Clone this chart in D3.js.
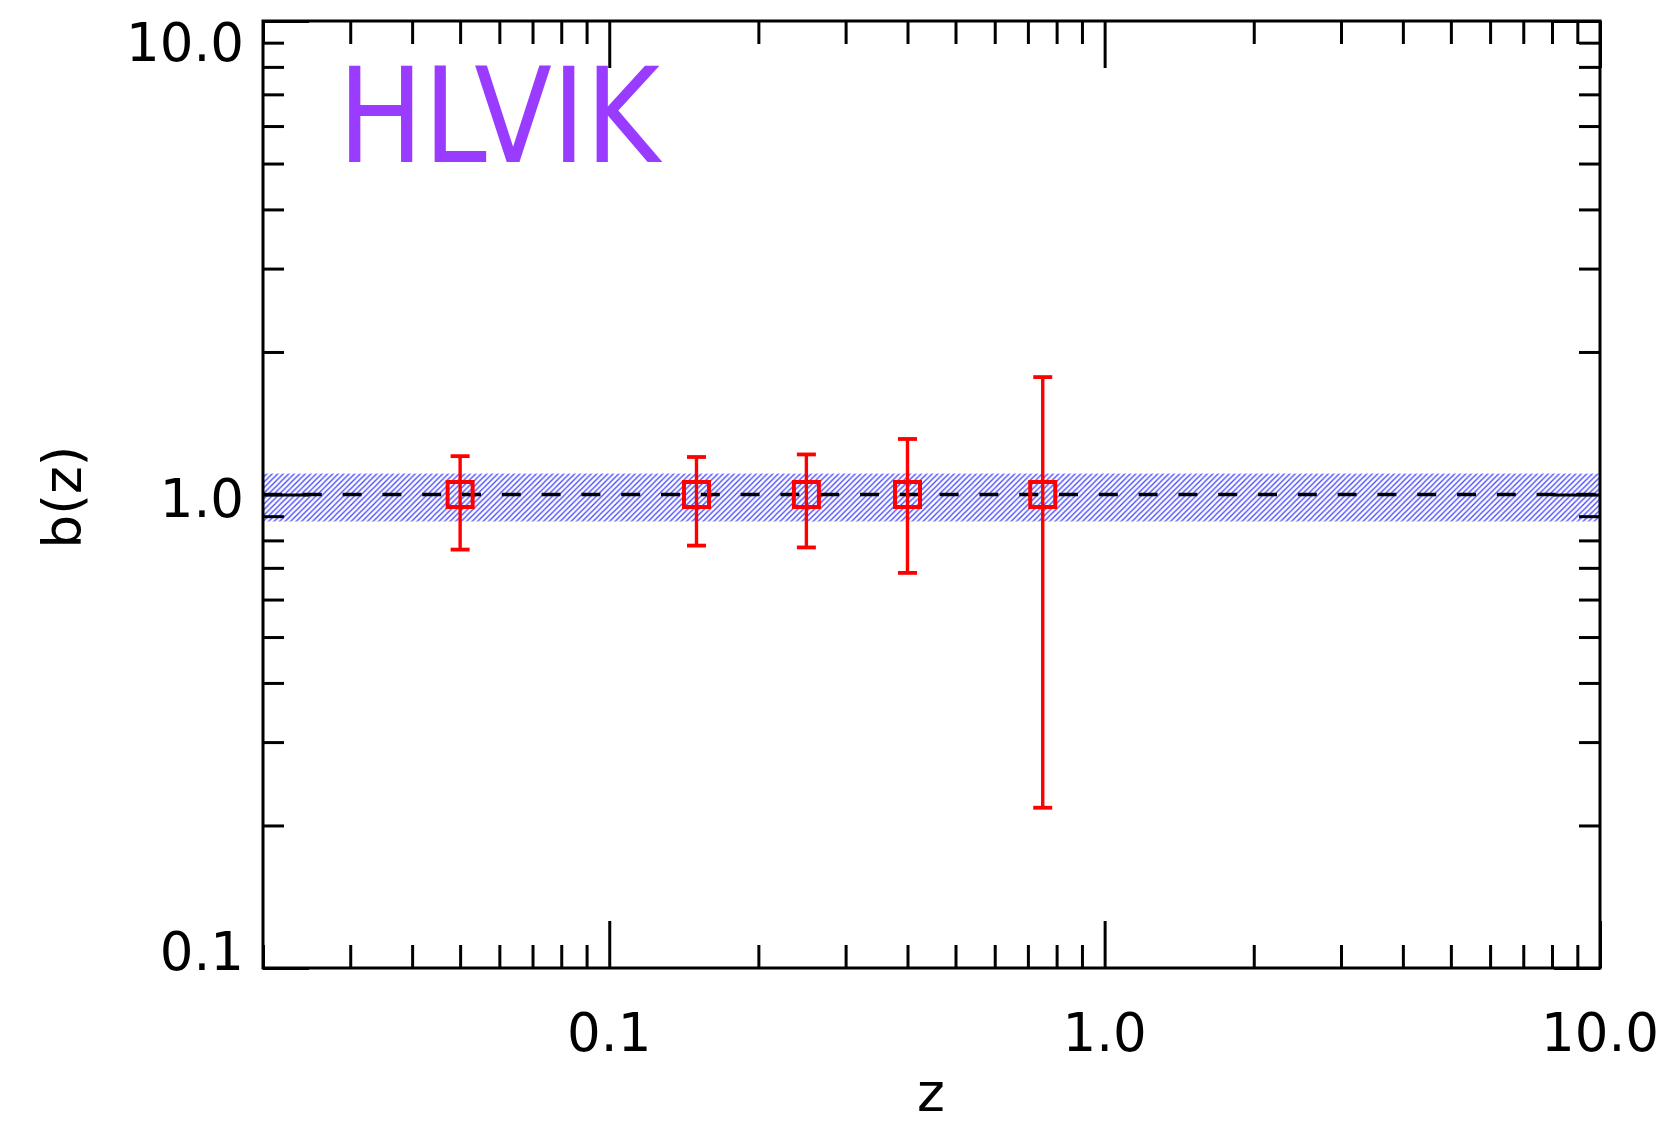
<!DOCTYPE html>
<html>
<head>
<meta charset="utf-8">
<script src="https://cdn.jsdelivr.net/npm/d3@7"></script>
<style>
body { margin: 0; background: #fff; }
svg text { font-family: "DejaVu Sans", sans-serif; }
</style>
</head>
<body>
<div id="chart"></div>
<script>
// data
var zValues = [0.05, 0.15, 0.25, 0.40, 0.75];
var bValues = [1.0, 1.0, 1.0, 1.0, 1.0];
var bUpper = [1.205, 1.20, 1.215, 1.31, 1.77];
var bLower = [0.765, 0.78, 0.773, 0.683, 0.218];
var bandRange = [0.877, 1.107];
var bFiducial = 1.0;
var xMajor = [0.1, 1, 10];
var xLabels = ["0.1", "1.0", "10.0"];
var yMajor = [0.1, 1, 10];
var yLabels = ["0.1", "1.0", "10.0"];
var xDomain = [0.02, 10];
var yDomain = [0.1, 10];
var panelName = "HLVIK";

var margin = {top: 21, right: 65, bottom: 155, left: 263};
var width = 1665 - margin.left - margin.right,
    height = 1123 - margin.top - margin.bottom;

var svg = d3.select("#chart").append("svg")
    .attr("width", 1665)
    .attr("height", 1123);

var defs = svg.append("defs");
var hatch = defs.append("pattern")
    .attr("id", "hatch")
    .attr("patternUnits", "userSpaceOnUse")
    .attr("width", 5.5)
    .attr("height", 5.5);
hatch.append("path")
    .attr("d", "M0,5.5 L5.5,0 M-1,1 L1,-1 M4.5,6.5 L6.5,4.5")
    .attr("stroke", "#4646ff")
    .attr("stroke-width", 1.3);
defs.append("clipPath").attr("id", "plotclip")
    .append("rect").attr("width", width).attr("height", height);

var g = svg.append("g").attr("transform", "translate(" + margin.left + "," + margin.top + ")");

var x = d3.scaleLog().domain(xDomain).range([0, width]);
var y = d3.scaleLog().domain(yDomain).range([height, 0]);

var isMajor = function (list) {
    return function (v) {
        return list.some(function (m) { return Math.abs(Math.log10(v) - Math.log10(m)) < 1e-6; });
    };
};
var xMinor = x.ticks().filter(function (v) { return !isMajor(xMajor)(v); });
var yMinor = y.ticks().filter(function (v) { return !isMajor(yMajor)(v); });

// hatched band
g.append("rect")
    .attr("clip-path", "url(#plotclip)")
    .attr("x", 0)
    .attr("width", width)
    .attr("y", y(bandRange[1]))
    .attr("height", y(bandRange[0]) - y(bandRange[1]))
    .attr("fill", "url(#hatch)");

// dashed reference line
g.append("line")
    .attr("x1", 0).attr("x2", width)
    .attr("y1", y(bFiducial)).attr("y2", y(bFiducial))
    .attr("stroke", "#000")
    .attr("stroke-width", 3.5)
    .attr("stroke-dasharray", "19,20.8");

// axes with inward ticks, on all four sides
function tickAxis(axisFn, scale, values, size, transform) {
    var a = g.append("g")
        .attr("transform", transform)
        .call(axisFn(scale).tickValues(values).tickSizeInner(size).tickSizeOuter(0).tickFormat(""));
    a.select(".domain").remove();
    a.selectAll("line").attr("stroke", "#000").attr("stroke-width", 3);
}
tickAxis(d3.axisBottom, x, xMinor, -23, "translate(0," + height + ")");
tickAxis(d3.axisBottom, x, xMajor, -47, "translate(0," + height + ")");
tickAxis(d3.axisTop, x, xMinor, -23, "translate(0,0)");
tickAxis(d3.axisTop, x, xMajor, -47, "translate(0,0)");
tickAxis(d3.axisLeft, y, yMinor, -21, "translate(0,0)");
tickAxis(d3.axisLeft, y, yMajor, -46, "translate(0,0)");
tickAxis(d3.axisRight, y, yMinor, -21, "translate(" + width + ",0)");
tickAxis(d3.axisRight, y, yMajor, -46, "translate(" + width + ",0)");

g.append("rect")
    .attr("width", width)
    .attr("height", height)
    .attr("fill", "none")
    .attr("stroke", "#000")
    .attr("stroke-width", 3);

// error bars and squares
var pts = zValues.map(function (z, i) {
    return {z: z, b: bValues[i], hi: bUpper[i], lo: bLower[i]};
});
var marks = g.append("g").selectAll("g")
    .data(pts)
    .enter().append("g")
    .attr("stroke", "#ff0000")
    .attr("fill", "none");
marks.append("line")
    .attr("x1", function (d) { return x(d.z); })
    .attr("x2", function (d) { return x(d.z); })
    .attr("y1", function (d) { return y(d.hi); })
    .attr("y2", function (d) { return y(d.lo); })
    .attr("stroke-width", 3.4);
["hi", "lo"].forEach(function (k) {
    marks.append("line")
        .attr("x1", function (d) { return x(d.z) - 9.5; })
        .attr("x2", function (d) { return x(d.z) + 9.5; })
        .attr("y1", function (d) { return y(d[k]); })
        .attr("y2", function (d) { return y(d[k]); })
        .attr("stroke-width", 3.8);
});
marks.append("rect")
    .attr("x", function (d) { return x(d.z) - 12.5; })
    .attr("y", function (d) { return y(d.b) - 12.5; })
    .attr("width", 25)
    .attr("height", 25)
    .attr("stroke-width", 4);

// tick labels
g.append("g").selectAll("text")
    .data(xMajor)
    .enter().append("text")
    .attr("x", function (d) { return x(d); })
    .attr("y", height + 83)
    .attr("text-anchor", "middle")
    .attr("font-size", 53)
    .attr("fill", "#000")
    .text(function (d, i) { return xLabels[i]; });

g.append("g").selectAll("text")
    .data(yMajor)
    .enter().append("text")
    .attr("x", -19)
    .attr("y", function (d) { return Math.min(Math.max(y(d) + 22, 40), height + 2); })
    .attr("text-anchor", "end")
    .attr("font-size", 53)
    .attr("fill", "#000")
    .text(function (d, i) { return yLabels[i]; });

// axis titles
svg.append("text")
    .attr("x", 931)
    .attr("y", 1111)
    .attr("text-anchor", "middle")
    .attr("font-size", 53)
    .text("z");
svg.append("text")
    .attr("transform", "translate(81,497) rotate(-90)")
    .attr("text-anchor", "middle")
    .attr("font-size", 53)
    .text("b(z)");

// panel name
g.append("text")
    .attr("x", 338 - margin.left)
    .attr("y", 162 - margin.top)
    .attr("font-size", 132)
    .attr("fill", "#9a3cff")
    .attr("textLength", 322)
    .attr("lengthAdjust", "spacingAndGlyphs")
    .text(panelName);
</script>
</body>
</html>
